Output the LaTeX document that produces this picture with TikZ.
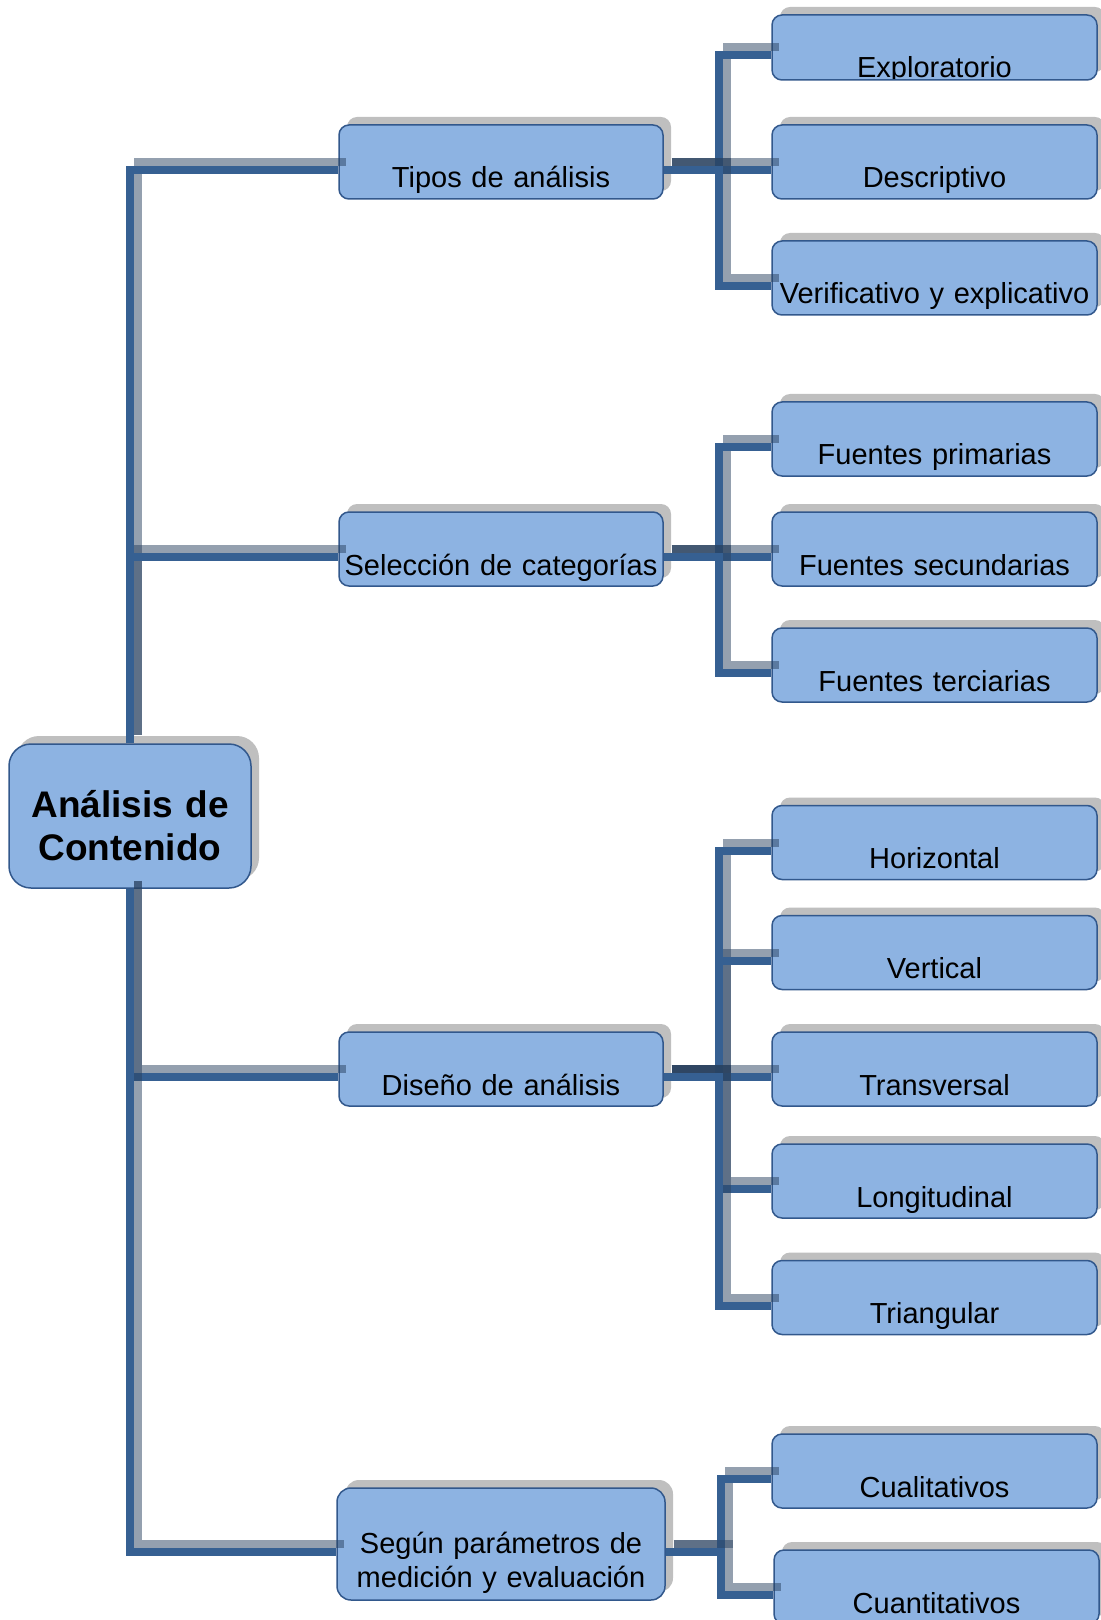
\documentclass[tikz,border=0pt]{standalone}
\usepackage{fontspec}
\usetikzlibrary{shadows}
\newfontfamily\arialfont{Liberation Sans}
\newcommand\lblfont{\arialfont\fontsize{14.5}{17}\selectfont}
\newcommand\rootfont{\arialfont\bfseries\fontsize{18.5}{21.5}\selectfont}
\definecolor{boxfill}{RGB}{141,179,226}
\definecolor{boxline}{RGB}{50,88,140}
\definecolor{linkblue}{RGB}{54,96,146}
\definecolor{linkshadow}{RGB}{41,65,95}
\definecolor{shadowgray}{RGB}{191,191,191}
\tikzset{
  box/.style={draw=boxline, line width=0.75pt, fill=boxfill, rounded corners=5pt,
    inner sep=0pt, align=center, font=\lblfont,
    drop shadow={shadow xshift=4pt, shadow yshift=4pt, fill=shadowgray, opacity=1}},
  leaf/.style={box, text width=162.5pt, text height=31.5pt, text depth=5.5pt},
  branch/.style={box, text width=162pt, text height=31.5pt, text depth=5.5pt},
  link/.style={draw=linkblue, line width=4pt},
  linkshade/.style={draw=linkshadow, line width=4pt, opacity=0.5}
}

\begin{document}
\begin{tikzpicture}[x=0.5pt,y=-0.5pt]
 \useasboundingbox (0,0) rectangle (1101,1620);
 % root
 \node[box, rounded corners=11pt, text width=121pt, text height=36.5pt, text depth=35.5pt, font=\rootfont] (root) at (130,816) {Análisis de\\Contenido};
 % first level
 \node[branch] (tipos) at (501,162) {Tipos de análisis};
 \node[branch] (selec) at (501,549) {Selección de categorías};
 \node[branch] (disen) at (501,1069) {Diseño de análisis};
 \node[box, rounded corners=7pt, text width=164pt, text height=32.5pt, text depth=23.5pt] (segun) at (501,1544) {Según parámetros de\\medición y evaluación};
 % second level
 \node[leaf, text height=27pt, path picture={\node[anchor=base, font=\lblfont] at ([yshift=1pt]path picture bounding box.south) {Exploratorio};}] (expl) at (934.5,47.5) {};
 \node[leaf] (desc) at (934.5,162) {Descriptivo};
 \node[leaf] (veri) at (934.5,278) {Verificativo y explicativo};
 \node[leaf] (fprim) at (934.5,439) {Fuentes primarias};
 \node[leaf] (fsec) at (934.5,549) {Fuentes secundarias};
 \node[leaf] (fter) at (934.5,665) {Fuentes terciarias};
 \node[leaf] (horiz) at (934.5,842.5) {Horizontal};
 \node[leaf] (vert) at (934.5,952.5) {Vertical};
 \node[leaf] (trans) at (934.5,1069) {Transversal};
 \node[leaf] (longi) at (934.5,1181) {Longitudinal};
 \node[leaf] (trian) at (934.5,1297.5) {Triangular};
 \node[leaf] (cual) at (934.5,1471) {Cualitativos};
 \node[leaf] (cuan) at (936.5,1587) {Cuantitativos};
 % connectors
 \foreach \c in {tipos,selec} {
  \draw[linkshade] ([shift={(4pt,4pt)}]root.north) |- ([xshift=4pt]\c.west);
  \draw[link] (root.north) |- ([yshift=-4pt]\c.west);
 }
 \foreach \c in {disen,segun} {
  \draw[linkshade] ([shift={(4pt,4pt)}]root.south) |- ([xshift=4pt]\c.west);
  \draw[link] (root.south) |- ([yshift=-4pt]\c.west);
 }
 \foreach \p/\c in {tipos/expl,tipos/desc,tipos/veri,selec/fprim,selec/fsec,selec/fter,
   disen/horiz,disen/vert,disen/trans,disen/longi,disen/trian,segun/cual,segun/cuan} {
  \draw[linkshade] ([xshift=4pt]\p.east) -- ++(55,0) |- ([xshift=4pt]\c.west);
  \draw[link] ([yshift=-4pt]\p.east) -- ++(55,0) |- ([yshift=-4pt]\c.west);
 }
\end{tikzpicture}
\end{document}
